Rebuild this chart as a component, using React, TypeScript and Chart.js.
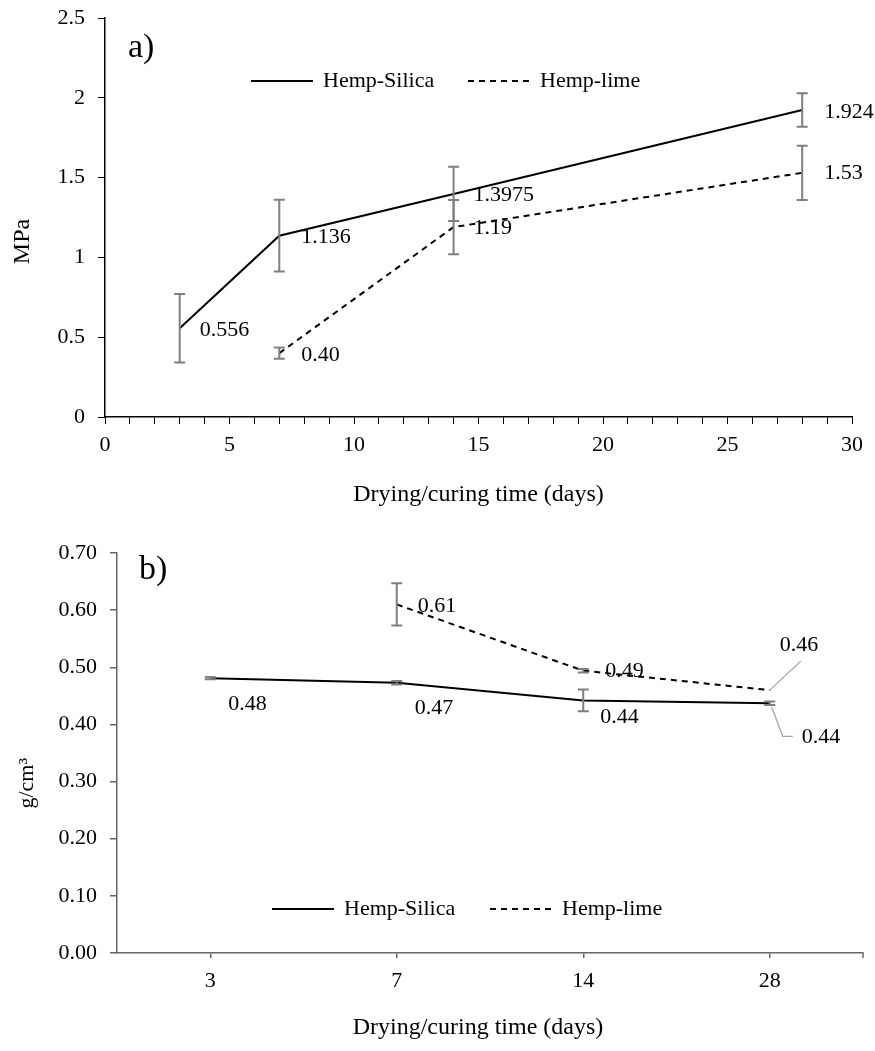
import React, { useEffect, useRef } from 'react';
import { Chart, registerables } from 'chart.js';

Chart.register(...registerables);

const FONT = "'Liberation Serif', 'Times New Roman', serif";

// ---------- Panel a) strength (MPa) ----------
const strengthDaysSilica = [3, 7, 14, 28];
const strengthSilica = [0.556, 1.136, 1.3975, 1.924];
const strengthSilicaErr = [0.215, 0.225, 0.17, 0.105];
const strengthSilicaLabels = ['0.556', '1.136', '1.3975', '1.924'];

const strengthDaysLime = [7, 14, 28];
const strengthLime = [0.4, 1.19, 1.53];
const strengthLimeErr = [0.035, 0.17, 0.17];
const strengthLimeLabels = ['0.40', '1.19', '1.53'];

// ---------- Panel b) density (g/cm3) ----------
const densityDays = ['3', '7', '14', '28'];
const densitySilica = [0.481, 0.473, 0.442, 0.437];
const densitySilicaErr = [0.002, 0.003, 0.019, 0.003];
const densitySilicaLabels = ['0.48', '0.47', '0.44', '0.44'];

const densityLime = [null, 0.61, 0.494, 0.46];
const densityLimeErr = [null, 0.037, 0.003, 0];
const densityLimeLabels = ['', '0.61', '0.49', '0.46'];

const seriesNames = ['Hemp-Silica', 'Hemp-lime'];

// ---------- label placement (pixel offsets from the point) ----------
const topSilicaLabelPos = [[20, 2], [22, 2], [20, 1], [22, 2]];
const topLimeLabelPos = [[22, 2], [20, 1], [22, 0]];
const botSilicaLabelPos = [[18, 26], [18, 26], [17, 17], [32, 34]];
const botLimeLabelPos = [null, [21, 2], [22, 1], [10, -45]];
const botSilicaLeaders = [null, null, null, [[2, 4], [13, 33], [23, 33]]];
const botLimeLeaders = [null, null, null, [[0, 0], [31, -29]]];

const DASH = [6, 5];
const TOP_H = 520;
const BOT_H = 1051 - TOP_H;

const decorPlugin = {
  id: 'decor',
  afterDatasetsDraw(chart: any, _args: any, opts: any) {
    const { ctx } = chart;
    const yScale = chart.scales.y;
    ctx.save();
    // error bars
    chart.data.datasets.forEach((ds: any, i: number) => {
      const meta = chart.getDatasetMeta(i);
      meta.data.forEach((pt: any, j: number) => {
        const e = ds.errors ? ds.errors[j] : null;
        const raw = ds.data[j];
        const v = raw && typeof raw === 'object' ? raw.y : raw;
        if (v == null || !e) return;
        const x = pt.x;
        const yT = yScale.getPixelForValue(v + e);
        const yB = yScale.getPixelForValue(v - e);
        ctx.strokeStyle = '#7f7f7f';
        ctx.lineWidth = 2;
        ctx.setLineDash([]);
        ctx.beginPath();
        ctx.moveTo(x, yT); ctx.lineTo(x, yB);
        ctx.moveTo(x - 5.5, yT); ctx.lineTo(x + 5.5, yT);
        ctx.moveTo(x - 5.5, yB); ctx.lineTo(x + 5.5, yB);
        ctx.stroke();
      });
    });
    // data labels + leader lines
    chart.data.datasets.forEach((ds: any, i: number) => {
      const meta = chart.getDatasetMeta(i);
      meta.data.forEach((pt: any, j: number) => {
        const txt = ds.valueLabels ? ds.valueLabels[j] : '';
        const pos = ds.labelPos ? ds.labelPos[j] : null;
        if (!txt || !pos) return;
        const lead = ds.leaders ? ds.leaders[j] : null;
        if (lead) {
          ctx.strokeStyle = '#a6a6a6';
          ctx.lineWidth = 1.3;
          ctx.setLineDash([]);
          ctx.beginPath();
          lead.forEach((p: number[], k: number) => {
            if (k === 0) ctx.moveTo(pt.x + p[0], pt.y + p[1]);
            else ctx.lineTo(pt.x + p[0], pt.y + p[1]);
          });
          ctx.stroke();
        }
        ctx.fillStyle = '#000';
        ctx.font = `${opts.labelSize}px ${FONT}`;
        ctx.textAlign = 'left';
        ctx.textBaseline = 'middle';
        ctx.fillText(txt, pt.x + pos[0], pt.y + pos[1]);
      });
    });
    // panel letter
    ctx.fillStyle = '#000';
    ctx.font = `34px ${FONT}`;
    ctx.textAlign = 'left';
    ctx.textBaseline = 'middle';
    ctx.fillText(opts.letter, opts.letterX, opts.letterY);
    // legend
    chart.data.datasets.forEach((ds: any, i: number) => {
      const x0 = opts.legendX[i];
      const y0 = opts.legendY;
      ctx.strokeStyle = '#000';
      ctx.lineWidth = 2;
      ctx.setLineDash(ds.borderDash || []);
      ctx.beginPath();
      ctx.moveTo(x0, y0);
      ctx.lineTo(x0 + opts.legendLine, y0);
      ctx.stroke();
      ctx.setLineDash([]);
      ctx.font = `22px ${FONT}`;
      ctx.fillText(ds.label, x0 + opts.legendLine + 10, y0);
    });
    // end tick on category axis
    if (opts.endTick) {
      const xs = chart.scales.x;
      ctx.strokeStyle = opts.axisColor;
      ctx.lineWidth = 1.5;
      ctx.beginPath();
      ctx.moveTo(xs.right, xs.top);
      ctx.lineTo(xs.right, xs.top + 5);
      ctx.stroke();
    }
    ctx.restore();
  },
};

function baseOptions() {
  return {
    responsive: false,
    animation: false as const,
    events: [],
    plugins: { legend: { display: false }, tooltip: { enabled: false } },
    elements: { point: { radius: 0 }, line: { tension: 0 } },
  };
}

const zeroPad = (s: any) => {
  s.paddingTop = 0;
  s.paddingBottom = 0;
};

export default function App() {
  const topRef = useRef<HTMLCanvasElement>(null);
  const botRef = useRef<HTMLCanvasElement>(null);

  useEffect(() => {
    document.body.style.margin = '0';
    Chart.defaults.font.family = FONT;
    Chart.defaults.color = '#000';

    const top = new Chart(topRef.current!, {
      type: 'line',
      data: {
        datasets: [
          {
            label: seriesNames[0],
            data: strengthDaysSilica.map((d, i) => ({ x: d, y: strengthSilica[i] })),
            borderColor: '#000',
            borderWidth: 2,
            errors: strengthSilicaErr,
            valueLabels: strengthSilicaLabels,
            labelPos: topSilicaLabelPos,
          } as any,
          {
            label: seriesNames[1],
            data: strengthDaysLime.map((d, i) => ({ x: d, y: strengthLime[i] })),
            borderColor: '#000',
            borderWidth: 2,
            borderDash: DASH,
            errors: strengthLimeErr,
            valueLabels: strengthLimeLabels,
            labelPos: topLimeLabelPos,
          } as any,
        ],
      },
      options: {
        ...baseOptions(),
        layout: { padding: { top: 18, right: 23, left: 0, bottom: 0 } },
        plugins: {
          ...baseOptions().plugins,
          decor: {
            letter: 'a)', letterX: 128, letterY: 48,
            legendX: [251, 468], legendY: 81, legendLine: 62,
            labelSize: 22, endTick: false, axisColor: '#000',
          },
        } as any,
        scales: {
          x: {
            type: 'linear', min: 0, max: 30,
            ticks: {
              stepSize: 1, autoSkip: false, maxRotation: 0, padding: 8,
              font: { size: 22 }, color: '#000',
              callback: (v: any) => (Number(v) % 5 === 0 ? String(v) : ''),
            },
            grid: { drawOnChartArea: false, drawTicks: true, tickLength: 7, color: '#000', lineWidth: 1 },
            border: { color: '#000', width: 1.5 },
            title: { display: true, text: 'Drying/curing time (days)', font: { size: 24 }, color: '#000', padding: { top: 0, bottom: 11 } },
            afterFit: (s: any) => { s.height = TOP_H - 417; },
          },
          y: {
            min: 0, max: 2.5,
            ticks: { stepSize: 0.5, padding: 13, font: { size: 22 }, color: '#000', callback: (v: any) => String(v) },
            grid: { drawOnChartArea: false, drawTicks: true, tickLength: 7, color: '#000', lineWidth: 1 },
            border: { color: '#000', width: 1.5 },
            title: { display: true, text: 'MPa        ', font: { size: 24 }, color: '#000', padding: { top: 8, bottom: 0 } },
            afterFit: (s: any) => { s.width = 105; zeroPad(s); },
          },
        } as any,
      },
      plugins: [decorPlugin],
    } as any);

    const AX = '#666666';
    const bot = new Chart(botRef.current!, {
      type: 'line',
      data: {
        labels: densityDays,
        datasets: [
          {
            label: seriesNames[0],
            data: densitySilica,
            borderColor: '#000',
            borderWidth: 2,
            errors: densitySilicaErr,
            valueLabels: densitySilicaLabels,
            labelPos: botSilicaLabelPos,
            leaders: botSilicaLeaders,
          } as any,
          {
            label: seriesNames[1],
            data: densityLime,
            borderColor: '#000',
            borderWidth: 2,
            borderDash: DASH,
            errors: densityLimeErr,
            valueLabels: densityLimeLabels,
            labelPos: botLimeLabelPos,
            leaders: botLimeLeaders,
          } as any,
        ],
      },
      options: {
        ...baseOptions(),
        layout: { padding: { top: 553 - TOP_H, right: 12, left: 0, bottom: 0 } },
        plugins: {
          ...baseOptions().plugins,
          decor: {
            letter: 'b)', letterX: 139, letterY: 570 - TOP_H,
            legendX: [272, 490], legendY: 909 - TOP_H, legendLine: 62,
            labelSize: 22, endTick: true, axisColor: AX,
          },
        } as any,
        scales: {
          x: {
            type: 'category', offset: true,
            ticks: { padding: 10, font: { size: 22 }, color: '#000', maxRotation: 0 },
            grid: { offset: false, drawOnChartArea: false, drawTicks: true, tickLength: 5, color: AX, lineWidth: 1.5 },
            border: { color: AX, width: 1.5 },
            title: { display: true, text: 'Drying/curing time (days)    ', font: { size: 24 }, color: '#000', padding: { top: 0, bottom: 9 } },
            afterFit: (s: any) => { s.height = 1051 - 953; },
          },
          y: {
            min: 0, max: 0.7,
            ticks: { stepSize: 0.1, padding: 13, font: { size: 22 }, color: '#000', callback: (v: any) => Number(v).toFixed(2) },
            grid: { drawOnChartArea: false, drawTicks: true, tickLength: 7, color: AX, lineWidth: 1.5 },
            border: { color: AX, width: 1.5 },
            title: { display: true, text: 'g/cm³           ', font: { size: 22 }, color: '#000', padding: { top: 14, bottom: 0 } },
            afterFit: (s: any) => { s.width = 117; zeroPad(s); },
          },
        } as any,
      },
      plugins: [decorPlugin],
    } as any);

    return () => {
      top.destroy();
      bot.destroy();
    };
  }, []);

  return (
    <div style={{ position: 'relative', width: 875, height: 1051, background: '#fff' }}>
      <canvas ref={topRef} width={875} height={TOP_H} style={{ position: 'absolute', left: 0, top: 0, width: 875, height: TOP_H }} />
      <canvas ref={botRef} width={875} height={BOT_H} style={{ position: 'absolute', left: 0, top: TOP_H, width: 875, height: BOT_H }} />
    </div>
  );
}
